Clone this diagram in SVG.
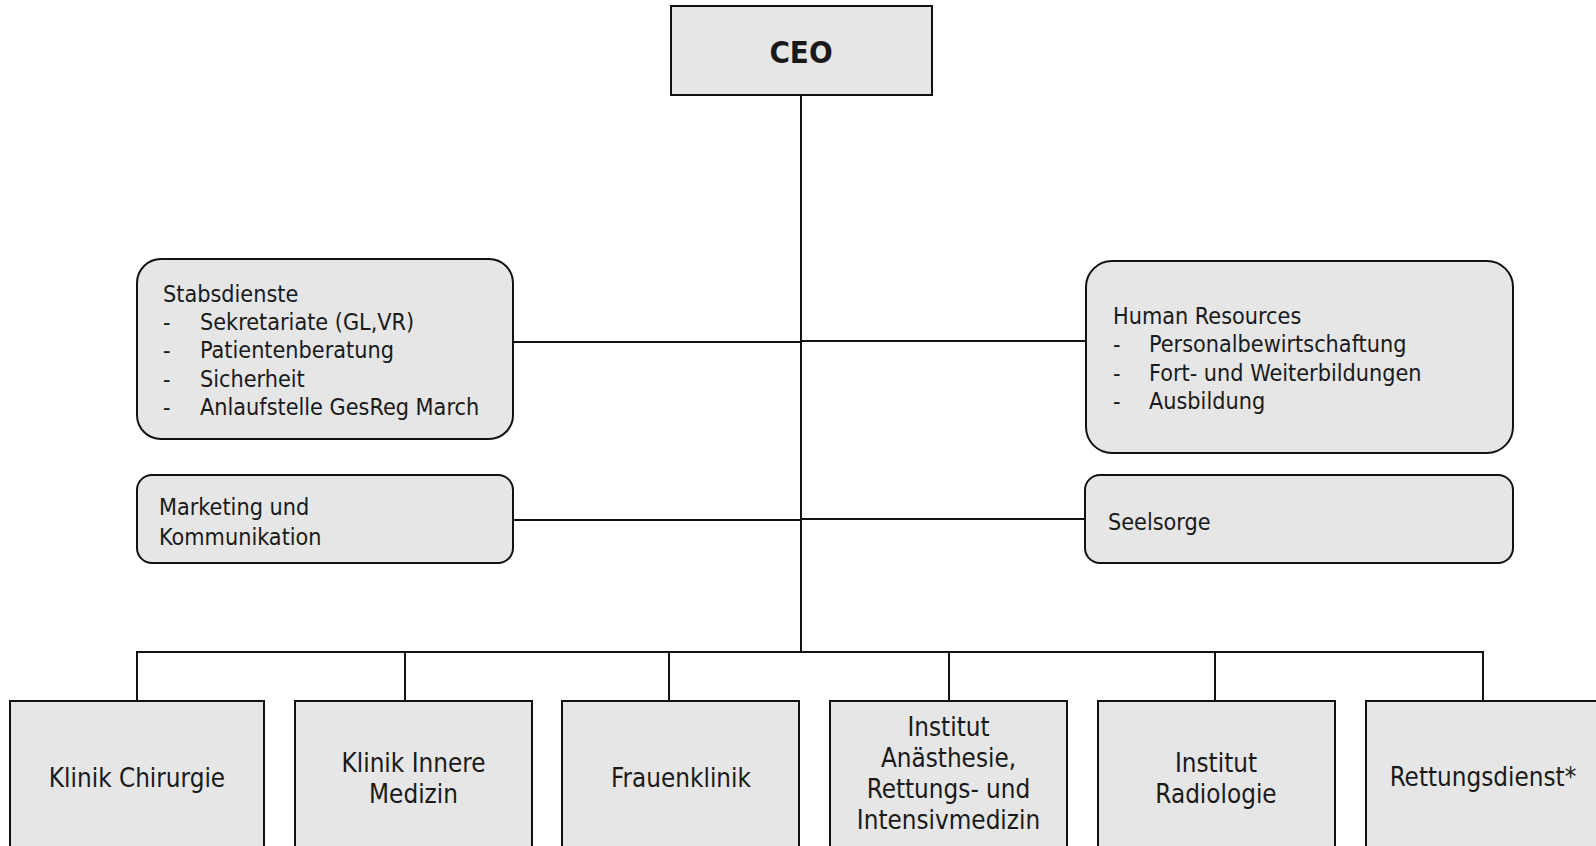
<svg xmlns="http://www.w3.org/2000/svg" width="1596" height="846" viewBox="0 0 1596 846">
<style>
.box{fill:#e6e6e6;stroke:#111;stroke-width:2}
.ln{stroke:#111;stroke-width:2;fill:none}
.t{font-family:"DejaVu Sans Condensed","DejaVu Sans",sans-serif;font-stretch:condensed;fill:#1a1a1a;font-size:23.2px}
.tb{font-family:"DejaVu Sans Condensed","DejaVu Sans",sans-serif;font-stretch:condensed;fill:#1a1a1a;font-size:25.8px;text-anchor:middle}
.ceo{font-family:"DejaVu Sans Condensed","DejaVu Sans",sans-serif;font-stretch:condensed;font-weight:bold;fill:#1a1a1a;font-size:31px;text-anchor:middle}
</style>
<rect width="1596" height="846" fill="#fff"/>
<g id="connectors">
<path class="ln" d="M801 95V652"/>
<path class="ln" d="M513 342H801"/>
<path class="ln" d="M801 341H1086"/>
<path class="ln" d="M513 520H801"/>
<path class="ln" d="M801 519H1085"/>
<path class="ln" d="M137 701V652H1483V701"/>
<path class="ln" d="M405 652V701"/>
<path class="ln" d="M669 652V701"/>
<path class="ln" d="M949 652V701"/>
<path class="ln" d="M1215 652V701"/>
</g>
<g id="ceo">
<rect class="box" x="671" y="6" width="261" height="89"/>
<text class="ceo" x="801" y="63">CEO</text>
</g>
<g id="stabsdienste">
<rect class="box" x="137" y="259" width="376" height="180" rx="24"/>
<text class="t" x="163" y="302">Stabsdienste</text>
<text class="t" x="163" y="330">-</text><text class="t" x="200" y="330">Sekretariate (GL,VR)</text>
<text class="t" x="163" y="358">-</text><text class="t" x="200" y="358">Patientenberatung</text>
<text class="t" x="163" y="387">-</text><text class="t" x="200" y="387">Sicherheit</text>
<text class="t" x="163" y="415">-</text><text class="t" x="200" y="415">Anlaufstelle GesReg March</text>
</g>
<g id="hr">
<rect class="box" x="1086" y="261" width="427" height="192" rx="26"/>
<text class="t" x="1113" y="324">Human Resources</text>
<text class="t" x="1113" y="352">-</text><text class="t" x="1149" y="352">Personalbewirtschaftung</text>
<text class="t" x="1113" y="381">-</text><text class="t" x="1149" y="381">Fort- und Weiterbildungen</text>
<text class="t" x="1113" y="409">-</text><text class="t" x="1149" y="409">Ausbildung</text>
</g>
<g id="marketing">
<rect class="box" x="137" y="475" width="376" height="88" rx="15"/>
<text class="t" x="159" y="515">Marketing und</text>
<text class="t" x="159" y="545">Kommunikation</text>
</g>
<g id="seelsorge">
<rect class="box" x="1085" y="475" width="428" height="88" rx="15"/>
<text class="t" x="1108" y="530">Seelsorge</text>
</g>
<g id="chirurgie">
<rect class="box" x="10" y="701" width="254" height="160"/>
<text class="tb" x="137" y="787">Klinik Chirurgie</text>
</g>
<g id="innere">
<rect class="box" x="295" y="701" width="237" height="160"/>
<text class="tb" x="413.5" y="772">Klinik Innere</text>
<text class="tb" x="413.5" y="803">Medizin</text>
</g>
<g id="frauenklinik">
<rect class="box" x="562" y="701" width="237" height="160"/>
<text class="tb" x="681" y="787">Frauenklinik</text>
</g>
<g id="anaesthesie">
<rect class="box" x="830" y="701" width="237" height="160"/>
<text class="tb" x="948.5" y="736">Institut</text>
<text class="tb" x="948.5" y="767">Anästhesie,</text>
<text class="tb" x="948.5" y="798">Rettungs- und</text>
<text class="tb" x="948.5" y="829">Intensivmedizin</text>
</g>
<g id="radiologie">
<rect class="box" x="1098" y="701" width="237" height="160"/>
<text class="tb" x="1216" y="772">Institut</text>
<text class="tb" x="1216" y="803">Radiologie</text>
</g>
<g id="rettungsdienst">
<rect class="box" x="1366" y="701" width="250" height="160"/>
<text class="tb" x="1483" y="786">Rettungsdienst*</text>
</g>
</svg>
